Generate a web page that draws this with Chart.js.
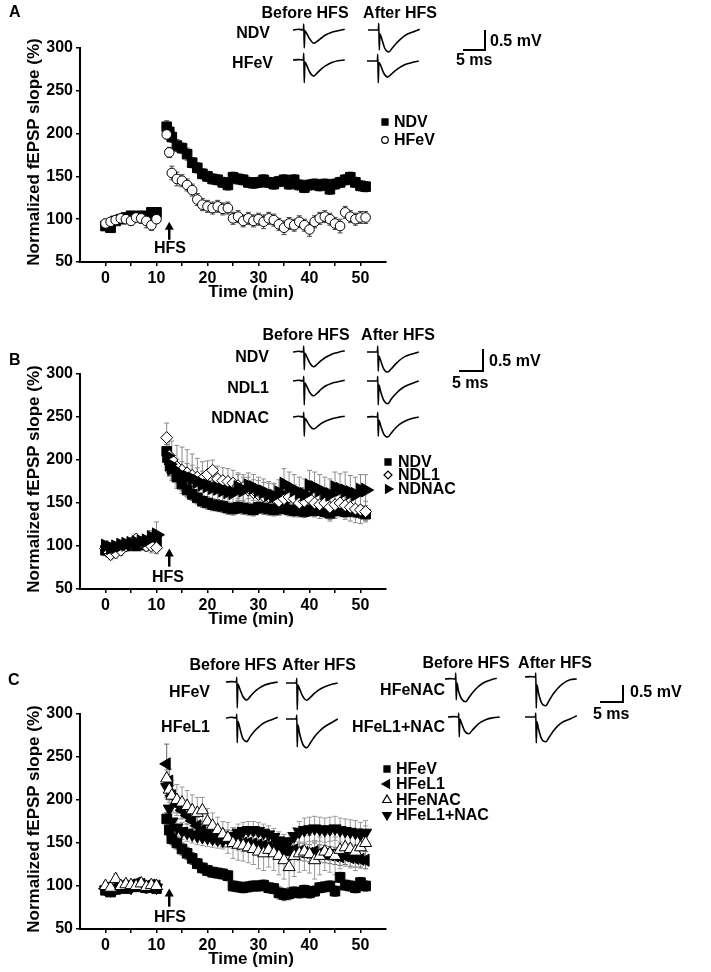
<!DOCTYPE html>
<html>
<head>
<meta charset="utf-8">
<script src="https://cdn.jsdelivr.net/npm/chart.js@4.4.1/dist/chart.umd.min.js"></script>
<style>
  html, body { margin: 0; padding: 0; background: #fff; }
  #fig { position: relative; width: 711px; height: 972px; overflow: hidden;
         font-family: "Liberation Sans", Arial, sans-serif; font-weight: bold; font-size: 16px; color: #000; }
  #fig canvas { position: absolute; }
  .lbl { position: absolute; white-space: nowrap; line-height: 1; }
  .ttl { font-size: 17px; }
  .bar { position: absolute; background: #000; }
</style>
</head>
<body>
<div id="fig"></div>
<script>
// time points (min), shared by all three panels
const minutes = [0,1,2,3,4,5,6,7,8,9,10, 12,12.5,13,
  14,15,16,17,18,19,20,21,22,23, 24,25,26,27,28,29,30,31,32,33,
  34,35,36,37,38,39,40,41,42,43, 44,45,46,47,48,49,50,51];

// Panel A
const ndvA = [92,90,98,100,102,104,103,104,103,108,108, 208,202,196,
  186,183,176,166,160,153,150,147,146,143, 140,149,147,146,143,142,143,146,143,141,
  144,146,141,146,140,137,140,141,139,141, 135,141,143,146,149,143,139,138];
const ndvAErr = [4,5,4,4,4,4,4,5,4,4,4, 7,7,6,
  7,6,7,6,6,6,6,6,6,6, 6,6,6,6,6,6,6,6,6,6,
  6,6,6,6,6,6,6,6,6,6, 6,6,6,6,6,6,6,6];
const hfevA = [95,97,99,101,100,98,102,101,98,93,100, 199,178,154,
  147,145,140,134,123,117,115,113,115,112, 113,101,103,98,101,98,100,97,101,99,
  94,90,95,93,97,93,88,97,101,103, 100,95,92,108,103,100,102,102];
const hfevAErr = [5,5,5,5,5,5,5,6,8,6,5, 5,6,8,
  8,7,7,7,7,7,7,7,7,7, 7,7,7,7,7,7,7,8,7,7,
  7,8,7,7,7,7,8,7,7,7, 7,7,8,7,7,7,7,7];

// Panel B
const ndvB = [95,93,97,99,100,101,100,102,101,103,105, 210,200,190,
  180,172,165,160,156,152,150,148,147,146, 144,143,145,144,143,142,145,144,143,142,
  143,145,142,141,141,140,142,141,143,140, 138,141,143,140,141,140,139,137];
const ndvBErr = [6,6,5,5,5,5,5,5,5,5,6, 8,8,8,
  8,8,8,7,7,7,7,7,7,7, 7,7,7,7,7,7,7,7,7,7,
  7,7,7,7,7,7,7,7,7,7, 7,7,7,7,7,7,7,7];
const ndl1B = [97,90,92,95,100,103,108,104,100,100,98, 226,205,200,
  192,188,185,182,180,178,183,188,178,176, 175,173,170,168,165,162,160,158,157,156,
  152,155,157,155,150,152,155,150,148,150, 145,148,150,147,145,143,142,140];
const ndl1BErr = [6,6,6,6,6,6,6,6,6,8,7, 17,20,22,
  25,27,27,25,22,20,16,12,15,15, 15,15,15,15,15,15,16,16,16,16,
  16,16,16,16,16,16,16,16,16,16, 16,16,16,16,16,16,16,12];
const ndnacB = [100,98,99,101,102,103,104,105,106,110,113, 205,195,190,
  185,182,180,178,175,172,170,168,167,165, 163,162,168,165,170,168,165,163,160,158,
  162,172,168,165,162,160,170,168,165,162, 160,168,166,164,162,160,165,165];
const ndnacBErr = [6,6,6,6,6,6,6,6,6,8,15, 10,14,14,
  16,16,16,16,16,15,15,15,15,15, 15,15,15,15,15,15,15,15,15,15,
  15,18,18,18,18,18,18,18,18,18, 18,18,18,22,20,20,18,18];

// Panel C
const hfevC = [95,93,96,98,97,100,99,101,98,100,97, 178,165,155,
  150,143,138,132,126,121,118,116,115,114, 112,100,99,98,99,100,100,101,98,97,
  92,90,91,93,92,95,92,94,98,99, 100,94,110,101,100,98,104,100];
const hfevCErr = [5,5,5,5,5,5,5,5,6,5,5, 7,7,7,
  7,7,7,7,6,6,6,6,6,6, 6,6,6,6,6,6,6,6,6,6,
  7,7,7,6,6,6,6,6,6,6, 6,6,6,6,6,6,6,6];
const hfel1C = [97,95,98,100,99,101,103,102,100,101,100, 242,222,205,
  195,188,182,176,170,165,162,160,158,156, 155,154,152,150,150,149,148,147,146,145,
  143,142,140,142,140,139,138,140,138,137, 136,135,134,135,133,132,131,130];
const hfel1CErr = [5,5,5,5,5,5,5,5,5,5,5, 23,14,12,
  10,10,10,10,10,10,10,10,10,10, 10,10,10,10,10,10,10,10,10,10,
  10,10,10,10,10,10,10,10,10,10, 10,10,10,10,10,10,10,10];
const hfenacC = [100,98,108,100,102,101,100,103,99,101,100, 225,212,205,
  200,197,193,188,185,188,175,170,165,160, 156,150,148,147,145,143,140,138,142,138,
  135,130,122,135,138,140,137,130,135,140, 138,135,142,145,143,140,145,150];
const hfenacCErr = [5,5,6,5,5,5,5,5,5,5,5, 10,15,18,
  18,18,18,18,18,15,15,15,15,15, 18,18,18,18,18,18,20,20,20,20,
  22,22,24,24,22,22,22,22,22,22, 22,22,22,22,22,22,22,20];
const hfel1nacC = [96,95,97,99,100,98,102,100,99,101,98, 215,190,175,
  168,164,162,160,158,157,156,155,154,153, 155,158,162,164,165,165,164,162,160,157,
  153,150,152,158,163,165,166,167,166,165, 166,167,165,164,163,162,160,162];
const hfel1nacCErr = [5,5,5,5,5,5,5,5,5,5,5, 12,10,10,
  10,10,10,10,10,10,10,10,10,10, 10,10,10,10,10,10,10,10,10,10,
  10,10,10,10,12,14,14,14,14,14, 14,14,14,14,14,14,14,14];

const yTicks = [50, 100, 150, 200, 250, 300];
const xTicks = [0, 10, 20, 30, 40, 50];

// example fEPSP traces (ms, mV)
const traceMs = [0, 1.2, 2.3, 2.4, 2.5, 2.65, 3.0, 3.7, 4.6, 5.4, 6.3, 7.3, 8.5, 10, 11.5];
const trNdvBeforeA  = [0,0.02,0,0.15,-0.45,-0.02,-0.08,-0.22,-0.33,-0.28,-0.2,-0.12,-0.06,-0.02,0.02];
const trNdvAfterA   = [0,0,0,0.17,-0.5,-0.1,-0.2,-0.45,-0.55,-0.45,-0.33,-0.22,-0.12,-0.05,0.02];
const trHfevBeforeA = [0,0.01,0,0.17,-0.57,-0.05,-0.12,-0.3,-0.4,-0.32,-0.22,-0.14,-0.07,-0.02,0];
const trHfevAfterA  = [0,0,0,0.17,-0.55,-0.04,-0.1,-0.3,-0.4,-0.33,-0.24,-0.16,-0.09,-0.04,0];
const trNdvBeforeB  = [0,0.02,0,0.15,-0.45,-0.03,-0.1,-0.27,-0.37,-0.3,-0.21,-0.13,-0.06,-0.01,0.03];
const trNdvAfterB   = [0,0,0,0.15,-0.48,-0.1,-0.2,-0.42,-0.5,-0.42,-0.31,-0.2,-0.11,-0.05,0];
const trNdl1BeforeB = [0,0.02,0,0.12,-0.6,-0.05,-0.12,-0.28,-0.37,-0.3,-0.2,-0.12,-0.06,-0.02,0.02];
const trNdl1AfterB  = [0,0,0,0.12,-0.6,-0.1,-0.25,-0.48,-0.57,-0.45,-0.33,-0.22,-0.13,-0.06,0];
const trNdnacBeforeB = [0,0.02,0,0.12,-0.48,-0.03,-0.08,-0.22,-0.3,-0.24,-0.16,-0.1,-0.05,-0.01,0.02];
const trNdnacAfterB  = [0,0.01,0,0.12,-0.48,-0.08,-0.2,-0.42,-0.5,-0.4,-0.28,-0.18,-0.1,-0.04,0];
const trHfevBeforeC  = [0,0.01,0,0.12,-0.65,-0.05,-0.15,-0.35,-0.45,-0.36,-0.25,-0.16,-0.08,-0.03,0];
const trHfevAfterC   = [0,0,0,0.12,-0.67,-0.05,-0.14,-0.33,-0.43,-0.36,-0.26,-0.17,-0.1,-0.04,0];
const trHfel1BeforeC = [0,0.02,0,0.1,-0.62,-0.08,-0.22,-0.5,-0.59,-0.46,-0.33,-0.22,-0.12,-0.05,0.02];
const trHfel1AfterC  = [0,0,0,0.1,-0.7,-0.15,-0.35,-0.62,-0.72,-0.6,-0.45,-0.32,-0.2,-0.1,0];
const trHfenacBeforeC = [0,0.01,0,0.15,-0.52,-0.1,-0.3,-0.5,-0.57,-0.45,-0.32,-0.2,-0.1,-0.03,0.02];
const trHfenacAfterC  = [0,0.01,0,0.1,-0.78,-0.2,-0.4,-0.65,-0.72,-0.58,-0.42,-0.28,-0.16,-0.07,-0.05];
const trHfel1nacBeforeC = [0,0.01,0,0.1,-0.5,-0.05,-0.15,-0.35,-0.42,-0.33,-0.22,-0.13,-0.06,-0.02,0];
const trHfel1nacAfterC  = [0,0,0,0.1,-0.65,-0.12,-0.3,-0.55,-0.62,-0.5,-0.35,-0.22,-0.12,-0.05,0.03];

const FONT = '"Liberation Sans", Arial, sans-serif';
const fig = document.getElementById('fig');

function addCanvas(left, top, w, h) {
  const cv = document.createElement('canvas');
  cv.width = w; cv.height = h;
  cv.style.left = left + 'px'; cv.style.top = top + 'px';
  cv.style.width = w + 'px'; cv.style.height = h + 'px';
  fig.appendChild(cv);
  return cv;
}

function label(text, x, y, align, extra) {
  const d = document.createElement('div');
  d.className = 'lbl';
  d.textContent = text;
  d.style.left = x + 'px';
  d.style.top = y + 'px';
  const tx = align === 'c' ? '-50%' : align === 'r' ? '-100%' : '0';
  d.style.transform = `translate(${tx}, -50%)` + (extra || '');
  fig.appendChild(d);
  return d;
}

function bar(x, y, w, h) {
  const d = document.createElement('div');
  d.className = 'bar';
  Object.assign(d.style, { left: x + 'px', top: y + 'px', width: w + 'px', height: h + 'px' });
  fig.appendChild(d);
}

// SEM bars, drawn under the markers
const errorBarPlugin = {
  id: 'errorBars',
  beforeDatasetsDraw(chart) {
    const { ctx, scales: { x, y } } = chart;
    ctx.save();
    ctx.lineWidth = 1;
    chart.data.datasets.forEach(ds => {
      ctx.strokeStyle = ds.errColor;
      ds.data.forEach((pt, i) => {
        const e = ds.yErr[i];
        if (!e) return;
        const px = x.getPixelForValue(pt.x);
        const hi = y.getPixelForValue(pt.y + e);
        const lo = y.getPixelForValue(pt.y - e);
        ctx.beginPath();
        ctx.moveTo(px, hi); ctx.lineTo(px, lo);
        ctx.moveTo(px - 2.5, hi); ctx.lineTo(px + 2.5, hi);
        ctx.moveTo(px - 2.5, lo); ctx.lineTo(px + 2.5, lo);
        ctx.stroke();
      });
    });
    ctx.restore();
  }
};

// HFS arrow at 12.5 min
const arrowPlugin = {
  id: 'hfsArrow',
  afterDatasetsDraw(chart) {
    const { ctx, scales: { x, y } } = chart;
    const px = x.getPixelForValue(12.5);
    const y1 = y.getPixelForValue(76);
    const y2 = y.getPixelForValue(97);
    ctx.save();
    ctx.strokeStyle = '#000';
    ctx.fillStyle = '#000';
    ctx.lineWidth = 2.5;
    ctx.beginPath();
    ctx.moveTo(px, y1); ctx.lineTo(px, y2 + 6);
    ctx.stroke();
    ctx.beginPath();
    ctx.moveTo(px - 4.5, y2 + 8); ctx.lineTo(px + 4.5, y2 + 8); ctx.lineTo(px, y2);
    ctx.closePath();
    ctx.fill();
    ctx.restore();
  }
};

// legend markers, same point styles as the datasets
const keyPlugin = {
  id: 'markerKey',
  afterDraw(chart, args, opts) {
    if (!opts.items || !Chart.helpers || !Chart.helpers.drawPoint) return;
    const ctx = chart.ctx;
    ctx.save();
    opts.items.forEach(it => {
      ctx.fillStyle = it.fill;
      ctx.strokeStyle = '#000';
      ctx.lineWidth = 1.2;
      Chart.helpers.drawPoint(ctx, { pointStyle: it.style, rotation: it.rot, radius: it.r, borderWidth: 1.2 }, it.x, it.y);
    });
    ctx.restore();
  }
};

function makeMainChart(p) {
  const h = p.plotBottom - p.top + 30;
  const cv = addCanvas(0, p.top, 400, h);
  const tickFont = { family: FONT, size: 16, weight: 'bold' };
  new Chart(cv, {
    type: 'scatter',
    data: {
      datasets: p.series.map(s => ({
        label: s.label,
        data: minutes.map((m, j) => ({ x: m, y: s.values[j] })),
        yErr: s.err,
        errColor: s.errColor,
        order: s.order,
        pointStyle: s.style,
        pointRotation: s.rot,
        pointRadius: s.r,
        pointHoverRadius: s.r,
        pointBackgroundColor: s.fill,
        pointBorderColor: '#000',
        pointBorderWidth: 1,
        backgroundColor: s.fill,
        borderColor: '#000'
      }))
    },
    options: {
      responsive: false,
      animation: false,
      devicePixelRatio: 1,
      layout: { padding: { left: 0, right: 14, top: p.plotTop - p.top, bottom: 0 } },
      plugins: {
        legend: { display: false },
        tooltip: { enabled: false },
        markerKey: { items: p.key.map(k => ({ ...k, y: k.y - p.top })) }
      },
      scales: {
        x: {
          type: 'linear', min: -5, max: 55,
          afterFit: s => { s.height = 30; },
          afterBuildTicks: s => { s.ticks = s.ticks.filter(t => t.value >= 0 && t.value <= 50); },
          ticks: { stepSize: 5, autoSkip: false, maxRotation: 0, padding: 3, color: '#000', font: tickFont,
                   callback: v => xTicks.includes(v) ? String(v) : '' },
          grid: { drawOnChartArea: false, drawTicks: true, tickLength: 4, color: '#000', lineWidth: 1.5 },
          border: { display: true, color: '#000', width: 2 }
        },
        y: {
          type: 'linear', min: 50, max: 300,
          afterFit: s => { s.width = 80; },
          afterBuildTicks: s => { s.ticks = yTicks.map(v => ({ value: v })); },
          ticks: { padding: 3, color: '#000', font: tickFont },
          grid: { drawOnChartArea: false, drawTicks: true, tickLength: 4, color: '#000', lineWidth: 1.5 },
          border: { display: true, color: '#000', width: 2 }
        }
      }
    },
    plugins: [errorBarPlugin, arrowPlugin, keyPlugin]
  });

  label(p.letter, p.letterPos[0], p.letterPos[1], 'l');
  label('HFS', p.hfs[0], p.hfs[1], 'c');
  label('Normalized fEPSP slope (%)', 33, (p.plotTop + p.plotBottom) / 2 - 3, 'c', ' rotate(-90deg)')
    .classList.add('ttl');
  label('Time (min)', 251, p.plotBottom + 29, 'c').classList.add('ttl');
  p.series.forEach((s, i) => label(s.label, p.keyTextX, p.key[i].y, 'l'));
}

function makeTrace(values, left, baseY) {
  const cv = addCanvas(left, baseY - 10, 54, 44);
  new Chart(cv, {
    type: 'line',
    data: {
      datasets: [{
        data: traceMs.map((t, i) => ({ x: t, y: values[i] })),
        borderColor: '#000', borderWidth: 1.6, pointRadius: 0,
        cubicInterpolationMode: 'monotone', fill: false
      }]
    },
    options: {
      responsive: false, animation: false, devicePixelRatio: 1,
      layout: { padding: 0 },
      plugins: { legend: { display: false }, tooltip: { enabled: false } },
      scales: {
        x: { type: 'linear', display: false, min: 0, max: 12 },
        y: { type: 'linear', display: false, min: -0.85, max: 0.25 }
      }
    }
  });
}

function scaleBar(x, yTop, yBottom, xLeft, mvPos, msPos) {
  bar(x - 1, yTop, 2, yBottom - yTop + 1);
  bar(xLeft, yBottom - 1, x - xLeft + 1, 2);
  label('0.5 mV', mvPos[0], mvPos[1], 'l');
  label('5 ms', msPos[0], msPos[1], 'l');
}

// ---- Panel A ----
makeMainChart({
  top: 0, plotTop: 48, plotBottom: 262, letter: 'A', letterPos: [9, 12], hfs: [170, 248],
  series: [
    { label: 'NDV', values: ndvA, err: ndvAErr, style: 'rect', rot: 0, r: 6.8, fill: '#000', errColor: '#444', order: 1 },
    { label: 'HFeV', values: hfevA, err: hfevAErr, style: 'circle', rot: 0, r: 4.8, fill: '#fff', errColor: '#444', order: 0 }
  ],
  keyTextX: 394,
  key: [
    { style: 'rect', rot: 0, r: 4.3, fill: '#000', x: 385, y: 122 },
    { style: 'circle', rot: 0, r: 3.3, fill: '#fff', x: 385, y: 140 }
  ]
});
label('Before HFS', 305, 13, 'c');
label('After HFS', 400, 13, 'c');
label('NDV', 270, 33, 'r');
label('HFeV', 273, 63, 'r');
makeTrace(trNdvBeforeA, 293, 30);
makeTrace(trNdvAfterA, 368, 30);
makeTrace(trHfevBeforeA, 293, 60);
makeTrace(trHfevAfterA, 367, 61);
scaleBar(485, 30, 50, 463, [490, 41], [456, 60]);

// ---- Panel B ----
makeMainChart({
  top: 310, plotTop: 374, plotBottom: 589, letter: 'B', letterPos: [9, 360], hfs: [168, 577],
  series: [
    { label: 'NDV', values: ndvB, err: ndvBErr, style: 'rect', rot: 0, r: 6.8, fill: '#000', errColor: '#666', order: 2 },
    { label: 'NDL1', values: ndl1B, err: ndl1BErr, style: 'rectRot', rot: 0, r: 6, fill: '#fff', errColor: '#8c8c8c', order: 1 },
    { label: 'NDNAC', values: ndnacB, err: ndnacBErr, style: 'triangle', rot: 90, r: 8, fill: '#000', errColor: '#8c8c8c', order: 0 }
  ],
  keyTextX: 398,
  key: [
    { style: 'rect', rot: 0, r: 4.3, fill: '#000', x: 388, y: 462 },
    { style: 'rectRot', rot: 0, r: 4, fill: '#fff', x: 388, y: 475 },
    { style: 'triangle', rot: 90, r: 5, fill: '#000', x: 388, y: 489 }
  ]
});
label('Before HFS', 306, 335, 'c');
label('After HFS', 398, 335, 'c');
label('NDV', 269, 357, 'r');
label('NDL1', 269, 388, 'r');
label('NDNAC', 269, 418, 'r');
makeTrace(trNdvBeforeB, 293, 352);
makeTrace(trNdvAfterB, 367, 352);
makeTrace(trNdl1BeforeB, 293, 381);
makeTrace(trNdl1AfterB, 367, 381);
makeTrace(trNdnacBeforeB, 293, 417);
makeTrace(trNdnacAfterB, 367, 417);
scaleBar(483, 349, 371, 459, [489, 361], [452, 383]);

// ---- Panel C ----
makeMainChart({
  top: 620, plotTop: 714, plotBottom: 929, letter: 'C', letterPos: [8, 680], hfs: [170, 917],
  series: [
    { label: 'HFeV', values: hfevC, err: hfevCErr, style: 'rect', rot: 0, r: 6.8, fill: '#000', errColor: '#444', order: 3 },
    { label: 'HFeL1', values: hfel1C, err: hfel1CErr, style: 'triangle', rot: -90, r: 7, fill: '#000', errColor: '#666', order: 2 },
    { label: 'HFeNAC', values: hfenacC, err: hfenacCErr, style: 'triangle', rot: 0, r: 7, fill: '#fff', errColor: '#999', order: 0 },
    { label: 'HFeL1+NAC', values: hfel1nacC, err: hfel1nacCErr, style: 'triangle', rot: 180, r: 7, fill: '#000', errColor: '#999', order: 1 }
  ],
  keyTextX: 396,
  key: [
    { style: 'rect', rot: 0, r: 4.3, fill: '#000', x: 387, y: 769 },
    { style: 'triangle', rot: -90, r: 5, fill: '#000', x: 387, y: 784 },
    { style: 'triangle', rot: 0, r: 5, fill: '#fff', x: 387, y: 800 },
    { style: 'triangle', rot: 180, r: 5, fill: '#000', x: 387, y: 815 }
  ]
});
label('Before HFS', 233, 665, 'c');
label('After HFS', 319, 665, 'c');
label('Before HFS', 466, 663, 'c');
label('After HFS', 555, 663, 'c');
label('HFeV', 210, 692, 'r');
label('HFeL1', 210, 727, 'r');
label('HFeNAC', 445, 690, 'r');
label('HFeL1+NAC', 445, 727, 'r');
makeTrace(trHfevBeforeC, 226, 682);
makeTrace(trHfevAfterC, 286, 683);
makeTrace(trHfel1BeforeC, 226, 718);
makeTrace(trHfel1AfterC, 286, 719);
makeTrace(trHfenacBeforeC, 445, 679);
makeTrace(trHfenacAfterC, 525, 677);
makeTrace(trHfel1nacBeforeC, 448, 717);
makeTrace(trHfel1nacAfterC, 525, 717);
scaleBar(623, 685, 702, 600, [630, 692], [593, 714]);
</script>
</body>
</html>
